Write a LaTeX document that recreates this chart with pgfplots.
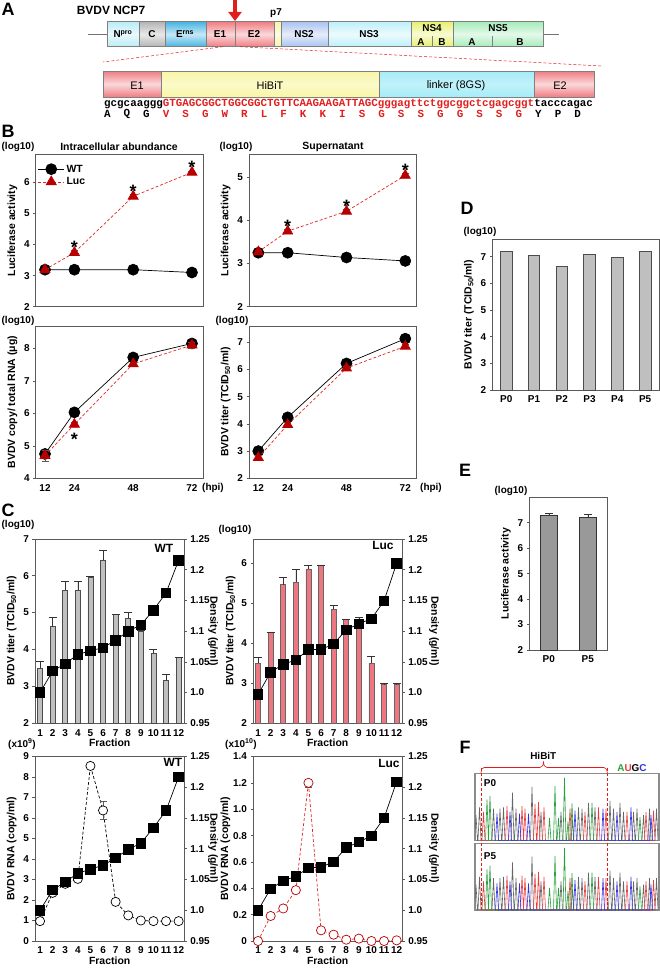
\documentclass[border=0pt]{standalone}
\usepackage{fontspec}
\setmainfont{Liberation Sans}
\newfontfamily\seqfont{Liberation Mono}
\usepackage{pgfplots}
\pgfplotsset{compat=1.18}
\usetikzlibrary{arrows.meta}

\definecolor{lucred}{RGB}{220,40,40}
\definecolor{lucdark}{RGB}{185,0,0}
\definecolor{lucbar}{RGB}{238,118,128}
\definecolor{seqred}{RGB}{225,30,30}
\definecolor{framegray}{RGB}{90,90,90}
\definecolor{cnpro}{RGB}{185,236,246}
\definecolor{cc}{RGB}{180,180,180}
\definecolor{cerns}{RGB}{70,180,225}
\definecolor{ce}{RGB}{240,125,130}
\definecolor{cp7}{RGB}{245,245,165}
\definecolor{cns2}{RGB}{170,195,240}
\definecolor{cns3}{RGB}{190,240,250}
\definecolor{cns4}{RGB}{232,240,110}
\definecolor{cns5}{RGB}{165,235,185}
\definecolor{chibit}{RGB}{248,246,165}
\definecolor{clink}{RGB}{165,236,248}
\definecolor{chg}{RGB}{40,160,60}
\definecolor{chb}{RGB}{50,50,225}
\definecolor{chr}{RGB}{230,60,60}

\newcommand\tf{\bfseries\fontsize{10}{12}\selectfont}
\newcommand\lf{\bfseries\fontsize{10.5}{12}\selectfont}
\newcommand\gbox[5]{\shade[top color=#5, bottom color=#5, middle color=#5!30!white] (#1,#3) rectangle (#2,#4);
  \draw[black!50, line width=0.5bp] (#1,#3) rectangle (#2,#4);}

\pgfplotsset{
  fig/.style={scale only axis, anchor=south west, font=\tf,
    tick label style={font=\tf}, label style={font=\lf},
    /pgf/number format/assume math mode=true,
    axis line style={framegray, line width=0.6bp},
    tick style={framegray, line width=0.6bp},
    tick align=outside, major tick length=2.5bp,
    xtick pos=bottom, ytick pos=left, clip mode=individual},
  bgrid/.style={fig, width=167.3bp, height=152.4bp, xmin=8.2, xmax=76.5,
    xtick={12,24,48,72}, x tick style={draw=none}},
  cgrid/.style={fig, width=149.3bp, height=184.5bp, xmin=0.6, xmax=12.45,
    xtick={1,...,12}, x tick style={draw=none}, xlabel={Fraction}, xlabel style={yshift=4bp}},
  dens/.style={fig, width=149.3bp, height=184.5bp, xmin=0.6, xmax=12.45,
    axis x line=none, axis y line*=right, ytick pos=right, yticklabel pos=right,
    ymin=0.95, ymax=1.25,
    ytick={0.95,1,1.05,1.1,1.15,1.2,1.25}, yticklabels={0.95,1.0,1.05,1.1,1.15,1.2,1.25}},
  wt/.style={black, line width=0.7bp, mark=*, mark size=5.5bp, mark options={solid}},
  luc/.style={lucred, densely dashed, line width=0.7bp, mark=triangle*, mark size=5.8bp,
    mark options={solid, fill=lucdark, draw=lucdark}},
  dsq/.style={black, line width=0.7bp, mark=square*, mark size=4.8bp},
  eb/.style={error bars/y dir=both, error bars/y explicit,
    error bars/error bar style={framegray, solid, line width=0.6bp},
    error bars/error mark options={rotate=90, framegray, solid, line width=0.6bp, mark size=3.5bp}},
  ebp/.style={error bars/y dir=plus, error bars/y explicit,
    error bars/error bar style={black!80, solid, line width=0.6bp},
    error bars/error mark options={rotate=90, black!80, solid, line width=0.6bp, mark size=4bp}},
  chrom/.style={scale only axis, anchor=south west, width=184bp, xmin=475, xmax=659,
    ymin=0, ymax=1.05, xtick=\empty, ytick=\empty, axis line style={black!45, line width=1.4bp}},
}
\tikzset{ast/.style={font=\bfseries\fontsize{18}{18}\selectfont, anchor=base, inner sep=0pt, yshift=-1bp}}

\def\pkK{(474.5,0)(476,0.40)(477.5,0)(478,0)(479.5,0.52)(481,0)(492,0)(493.5,0.5)(495,0)(498.5,0)(500,0.5)(501.5,0)(502,0)(503.5,0.52)(505,0)(511,0)(512.5,0.75)(514,0)(514.5,0)(516,0.5)(517.5,0)(530.5,0)(532,0.84)(533.5,0)(539.5,0)(541,0.45)(542.5,0)(559.5,0)(561,0.45)(562.5,0)(571,0)(572.5,0.32)(574,0)(577,0)(578.5,0.52)(580,0)(580.5,0)(582,0.5)(583.5,0)(587,0)(588.5,0.59)(590,0)(593.5,0)(595,0.52)(596.5,0)(608.5,0)(610,0.62)(611.5,0)(612,0)(613.5,0.5)(615,0)(618.5,0)(620,0.59)(621.5,0)(622,0)(623.5,0.45)(625,0)(632,0)(633.5,0.45)(635,0)(635.5,0)(637,0.5)(638.5,0)(642,0)(643.5,0.4)(645,0)(648,0)(649.5,0.5)(651,0)(655,0)(656.5,0.5)(658,0)}
\def\pkR{(482,0)(483.5,0.45)(485,0)(505.5,0)(507,0.54)(508.5,0)(520.5,0)(522,0.54)(523.5,0)(525,0.5)(526.5,0)(533.5,0)(535,0.57)(536.5,0)(537,0)(538.5,0.6)(540,0)(542.5,0)(544,0.52)(545.5,0)(568.5,0)(570,0.5)(571.5,0)(583.5,0)(585,0.45)(586.5,0)(597,0)(598.5,0.52)(600,0)(604.5,0)(606,0.5)(607.5,0)(625.5,0)(627,0.45)(628.5,0)(644.5,0)(646,0.45)(647.5,0)(652,0)(653.5,0.47)(655,0)}
\def\pkG{(485.5,0)(487,0.64)(488.5,0)(490,0.7)(491.5,0)(548,0)(549.5,0.35)(551,0)(553.5,0)(555,0.85)(556.5,0)(557,0)(558.5,0.35)(560,0)(563,0)(564.5,0.98)(566,0)(566.5,0)(568,0.3)(569.5,0)(570.5,0)(572,0.58)(573.5,0)(590.5,0)(592,0.59)(593.5,0)(638.5,0)(640,0.37)(641.5,0)}
\def\pkB{(495.5,0)(497,0.42)(498.5,0)(508.5,0)(510,0.45)(511.5,0)(518,0)(519.5,0.42)(521,0)(527,0)(528.5,0.42)(530,0)(573.5,0)(575,0.47)(576.5,0)(601.5,0)(603,0.5)(604.5,0)(615.5,0)(617,0.45)(618.5,0)(629.5,0)(631,0.52)(632.5,0)(649.5,0)(651,0.4)(652.5,0)}

\begin{document}
\begin{tikzpicture}
\path[use as bounding box] (0bp,0bp) rectangle (660bp,-968bp);

% ---------- panel A: genome map ----------
\begin{scope}[x=1bp,y=-1bp]
\draw[black!55, line width=0.8bp] (88,34.2) -- (559,34.2);
\gbox{107}{139}{21.7}{46.7}{cnpro}
\gbox{139}{165}{21.7}{46.7}{cc}
\gbox{165}{206}{21.7}{46.7}{cerns}
\gbox{206}{235}{21.7}{46.7}{ce}
\gbox{235}{274}{21.7}{46.7}{ce}
\gbox{274}{281}{21.7}{46.7}{cp7}
\gbox{281}{328}{21.7}{46.7}{cns2}
\gbox{328}{411}{21.7}{46.7}{cns3}
\gbox{411}{453}{21.7}{46.7}{cns4}
\gbox{453}{543}{21.7}{46.7}{cns5}
\draw[black!50, line width=0.5bp] (432,36) -- (432,46.7) (492,36) -- (492,46.7);
\begin{scope}[font=\tf]
\node at (123,34) {N\textsuperscript{pro}};
\node at (152,34) {C};
\node at (185,34) {E\textsuperscript{rns}};
\node at (220,34) {E1};
\node at (254,34) {E2};
\node at (304,34) {NS2};
\node at (369,34) {NS3};
\node at (432,28) {NS4};
\node at (421,42.5) {A}; \node at (442,42.5) {B};
\node at (498,28) {NS5};
\node at (472,42.5) {A}; \node at (520,42.5) {B};
\node at (276,13) {p7};
\end{scope}
\node[font=\bfseries\fontsize{12}{14}\selectfont] at (111,10) {BVDV NCP7};
\draw[seqred, line width=3.5bp, -{Triangle[width=13bp,length=9bp]}] (235,0) -- (235,21);
\draw[seqred, densely dashed, line width=0.5bp] (223,46.7) -- (103,62) (240,46.7) -- (602,66);
\gbox{103}{161}{71}{97}{ce}
\shade[top color=chibit, bottom color=chibit, middle color=chibit!60!white] (161,71) rectangle (379,97);
\draw[black!50, line width=0.5bp] (161,71) rectangle (379,97);
\shade[top color=clink, bottom color=clink, middle color=clink!70!white] (379,71) rectangle (534,97);
\draw[black!50, line width=0.5bp] (379,71) rectangle (534,97);
\gbox{534}{594}{71}{97}{ce}
\begin{scope}[font=\fontsize{11}{13}\selectfont]
\node at (137,86) {E1};
\node at (270,86) {HiBiT};
\node at (456,86) {linker (8GS)};
\node at (560,86) {E2};
\end{scope}
\node[anchor=west, inner sep=0pt, font=\seqfont\bfseries\fontsize{10.9}{12}\selectfont] at (104,104)
  {gcgcaaggg\textcolor{seqred}{GTGAGCGGCTGGCGGCTGTTCAAGAAGATTAGCgggagttctggcggctcgagcggt}tacccagac};
\foreach \a [count=\i from 0] in {A,Q,G,V,S,G,W,R,L,F,K,K,I,S,G,S,S,G,G,S,S,G,Y,P,D} {
  \pgfmathsetmacro\xx{104+(3*\i+0.5)*6.533}
  \ifnum\i<3 \def\cl{black}\else\ifnum\i>21 \def\cl{black}\else\def\cl{seqred}\fi\fi
  \node[text=\cl, inner sep=0pt, font=\seqfont\bfseries\fontsize{10.9}{12}\selectfont] at (\xx,114) {\a};
}
% panel letters and free labels
\begin{scope}[font=\bfseries\fontsize{18}{18}\selectfont]
\node at (8,9) {A}; \node at (8,131) {B}; \node at (8,510) {C};
\node at (467,208) {D}; \node at (465,470) {E}; \node at (465,747) {F};
\end{scope}
\begin{scope}[font=\tf]
\node at (18,147) {(log10)}; \node at (236,147) {(log10)};
\node at (18,321) {(log10)}; \node at (232,321) {(log10)};
\node at (18,525) {(log10)}; \node at (235,530) {(log10)};
\node at (480,232) {(log10)}; \node at (511,491) {(log10)};
\node at (22,744) {(x10\textsuperscript{9})}; \node at (241,744) {(x10\textsuperscript{10})};
\node at (213,488) {(hpi)}; \node at (431,488) {(hpi)};
\end{scope}
\node[font=\lf] at (119,147) {Intracellular abundance};
\node[font=\lf] at (333,147) {Supernatant};
\begin{scope}[font=\bfseries\fontsize{12}{14}\selectfont]
\node at (164,548) {WT}; \node at (173,762) {WT};
\node at (383,545) {Luc}; \node at (389,763) {Luc};
\end{scope}
\begin{scope}[font=\lf]
\node[rotate=-90] at (213,631) {Density (g/ml)};
\node[rotate=-90] at (434,631) {Density (g/ml)};
\node[rotate=-90] at (213,848) {Density (g/ml)};
\node[rotate=-90] at (434,848) {Density (g/ml)};
\end{scope}
\end{scope}

% ---------- panel B ----------
\begin{axis}[bgrid, at={(35.7bp,-306.7bp)}, ymin=2, ymax=6.9, ytick={2,...,6}, xticklabels={},
  ylabel={Luciferase activity},
  legend style={at={(0,0.965)}, anchor=north west, xshift=2bp, draw=none, fill=none, inner xsep=0bp, inner ysep=3bp,
    font=\lf, cells={anchor=west}},
  legend image code/.code={\draw[mark repeat=2,mark phase=2,#1] plot coordinates {(0bp,0bp) (13bp,0bp) (26bp,0bp)};}]
\addplot[wt] coordinates {(12,3.19)(24,3.19)(48,3.19)(72,3.10)};
\addlegendentry{WT}
\addplot[luc, eb] coordinates {(12,3.19)+-(0,0.03)(24,3.74)+-(0,0.06)(48,5.55)+-(0,0.05)(72,6.32)+-(0,0.04)};
\addlegendentry{Luc}
\node[ast] at (axis cs:24,3.74) {*};
\node[ast] at (axis cs:48,5.55) {*};
\node[ast] at (axis cs:72,6.32) {*};
\end{axis}

\begin{axis}[bgrid, at={(249bp,-306.7bp)}, ymin=2, ymax=5.53, ytick={2,...,5}, xticklabels={},
  ylabel={Luciferase activity}]
\addplot[wt] coordinates {(12,3.25)(24,3.25)(48,3.14)(72,3.06)};
\addplot[luc, eb] coordinates {(12,3.27)+-(0,0.03)(24,3.75)+-(0,0.05)(48,4.21)+-(0,0.05)(72,5.04)+-(0,0.04)};
\node[ast] at (axis cs:24,3.75) {*};
\node[ast] at (axis cs:48,4.21) {*};
\node[ast] at (axis cs:72,5.04) {*};
\end{axis}

\begin{axis}[bgrid, at={(35.7bp,-478.3bp)}, ymin=4, ymax=8.69, ytick={4,...,8},
  ylabel={BVDV copy/ total RNA (μg)}]
\addplot[wt, eb] coordinates {(12,4.75)+-(0,0.12)(24,6.03)+-(0,0.04)(48,7.72)+-(0,0.05)(72,8.15)+-(0,0.1)};
\addplot[luc, eb] coordinates {(12,4.70)+-(0,0.17)(24,5.66)+-(0,0.07)(48,7.52)+-(0,0.06)(72,8.10)+-(0,0.1)};
\node[ast, yshift=-20bp] at (axis cs:24,5.66) {*};
\end{axis}

\begin{axis}[bgrid, at={(249bp,-478.3bp)}, ymin=2, ymax=7.6, ytick={2,...,7},
  ylabel={BVDV titer (TCID\textsubscript{50}/ml)}]
\addplot[wt, eb] coordinates {(12,3.0)+-(0,0.08)(24,4.24)+-(0,0.06)(48,6.22)+-(0,0.05)(72,7.13)+-(0,0.1)};
\addplot[luc, eb] coordinates {(12,2.76)+-(0,0.1)(24,3.97)+-(0,0.08)(48,6.05)+-(0,0.06)(72,6.85)+-(0,0.08)};
\end{axis}

% ---------- panel C ----------
\begin{axis}[cgrid, at={(35bp,-723.3bp)}, ymin=2, ymax=7, ytick={2,...,7}, ybar, bar width=5bp,
  ylabel={BVDV titer (TCID\textsubscript{50}/ml)}]
\addplot[fill=black!25, draw=black!70, line width=0.5bp, ebp] coordinates {
  (1,3.49)+-(0,0.18) (2,4.62)+-(0,0.24) (3,5.61)+-(0,0.24) (4,5.61)+-(0,0.24)
  (5,5.97)+-(0,0.01) (6,6.43)+-(0,0.27) (7,4.95)+-(0,0.01) (8,4.85)+-(0,0.15)
  (9,4.50)+-(0,0.02) (10,3.90)+-(0,0.1) (11,3.17)+-(0,0.16) (12,3.78)+-(0,0.01)};
\end{axis}
\begin{axis}[dens, at={(35bp,-723.3bp)}]
\addplot[dsq] coordinates {(1,1.0)(2,1.035)(3,1.047)(4,1.062)(5,1.068)(6,1.073)(7,1.085)(8,1.10)(9,1.11)(10,1.134)(11,1.162)(12,1.215)};
\end{axis}

\begin{axis}[cgrid, at={(253bp,-723.3bp)}, ymin=2, ymax=6.6, ytick={2,...,6}, ybar, bar width=5bp,
  ylabel={BVDV titer (TCID\textsubscript{50}/ml)}, ylabel shift=-1bp]
\addplot[fill=lucbar, draw=black!60, line width=0.5bp, ebp] coordinates {
  (1,3.50)+-(0,0.15) (2,4.27)+-(0,0.01) (3,5.46)+-(0,0.17) (4,5.52)+-(0,0.31)
  (5,5.85)+-(0,0.08) (6,5.93)+-(0,0.01) (7,4.84)+-(0,0.11) (8,4.59)+-(0,0.01)
  (9,4.39)+-(0,0.26) (10,3.50)+-(0,0.16) (11,2.98)+-(0,0.01) (12,2.98)+-(0,0.01)};
\end{axis}
\begin{axis}[dens, at={(253bp,-723.3bp)}]
\addplot[dsq] coordinates {(1,0.997)(2,1.033)(3,1.046)(4,1.053)(5,1.07)(6,1.07)(7,1.079)(8,1.102)(9,1.112)(10,1.12)(11,1.149)(12,1.21)};
\end{axis}

\begin{axis}[cgrid, at={(35bp,-941bp)}, ymin=0, ymax=9, ytick={0,...,9},
  ylabel={BVDV RNA (copy/ml)}]
\addplot[black, densely dashed, line width=0.7bp, mark=*, mark size=4.6bp,
  mark options={solid, fill=white, draw=black}, eb] coordinates {
  (1,0.97)+-(0,0) (2,2.35)+-(0,0) (3,2.79)+-(0,0) (4,3.03)+-(0,0) (5,8.54)+-(0,0.08)
  (6,6.37)+-(0,0.45) (7,1.91)+-(0,0) (8,1.25)+-(0,0) (9,1.0)+-(0,0) (10,0.97)+-(0,0)
  (11,0.97)+-(0,0) (12,0.97)+-(0,0)};
\end{axis}
\begin{axis}[dens, at={(35bp,-941bp)}]
\addplot[dsq] coordinates {(1,1.0)(2,1.033)(3,1.046)(4,1.06)(5,1.067)(6,1.073)(7,1.085)(8,1.099)(9,1.109)(10,1.134)(11,1.162)(12,1.217)};
\end{axis}

\begin{axis}[cgrid, at={(253bp,-941bp)}, ymin=0, ymax=1.4, ytick={0,0.2,...,1.4},
  yticklabels={0,0.2,0.4,0.6,0.8,1.0,1.2,1.4}, ylabel={BVDV RNA (copy/ml)}, ylabel shift=-4bp]
\addplot[lucred, densely dashed, line width=0.7bp, mark=*, mark size=4.6bp,
  mark options={solid, fill=white, draw=lucdark}, eb] coordinates {
  (1,0.0)+-(0,0) (2,0.19)+-(0,0) (3,0.247)+-(0,0) (4,0.386)+-(0,0) (5,1.2)+-(0,0.03)
  (6,0.081)+-(0,0) (7,0.048)+-(0,0) (8,0.01)+-(0,0) (9,0.018)+-(0,0) (10,0.0)+-(0,0)
  (11,0.0)+-(0,0) (12,0.005)+-(0,0)};
\end{axis}
\begin{axis}[dens, at={(253bp,-941bp)}]
\addplot[dsq] coordinates {(1,1.0)(2,1.035)(3,1.048)(4,1.055)(5,1.069)(6,1.07)(7,1.079)(8,1.102)(9,1.111)(10,1.121)(11,1.15)(12,1.209)};
\end{axis}

% ---------- panel D ----------
\begin{axis}[fig, at={(492.3bp,-390bp)}, width=166.7bp, height=151bp, xmin=-0.5, xmax=5.5,
  ymin=2, ymax=7.66, ytick={2,...,7}, xtick={0,...,5}, xticklabels={P0,P1,P2,P3,P4,P5},
  x tick style={draw=none}, ybar, bar width=11.5bp, ylabel={BVDV titer (TCID\textsubscript{50}/ml)}]
\addplot[fill=black!25, draw=black!70, line width=0.6bp] coordinates {(0,7.21)(1,7.06)(2,6.62)(3,7.08)(4,6.97)(5,7.21)};
\end{axis}

% ---------- panel E ----------
\begin{axis}[fig, at={(529.3bp,-650bp)}, width=78bp, height=152.7bp, xmin=-0.5, xmax=1.5,
  ymin=2, ymax=8, ytick={2,...,7}, xtick={0,1}, xticklabels={P0,P5},
  x tick style={draw=none}, ybar, bar width=17bp, ylabel={Luciferase activity}]
\addplot[fill=black!40, draw=black!80, line width=0.6bp, ebp] coordinates {(0,7.29)+-(0,0.09)(1,7.20)+-(0,0.12)};
\end{axis}

% ---------- panel F ----------
\begin{axis}[chrom, at={(475bp,-840.7bp)}, height=67.4bp]
\addplot[black!60, line width=0.6bp] coordinates {\pkK};
\addplot[chr, line width=0.6bp] coordinates {\pkR};
\addplot[chg, line width=0.6bp] coordinates {\pkG};
\addplot[chb, line width=0.6bp] coordinates {\pkB};
\end{axis}
\begin{axis}[chrom, at={(475bp,-910bp)}, height=66.7bp]
\addplot[black!60, line width=0.6bp] coordinates {\pkK};
\addplot[chr, line width=0.6bp] coordinates {\pkR};
\addplot[chg, line width=0.6bp] coordinates {\pkG};
\addplot[chb, line width=0.6bp] coordinates {\pkB};
\end{axis}

\begin{scope}[x=1bp,y=-1bp]
\draw[seqred, densely dashed, line width=0.7bp] (481,768) -- (481,910) (607.3,768) -- (607.3,910);
\draw[seqred, line width=0.6bp] (481,773) to[out=90,in=180] (484,767.5) -- (540,767.5)
  to[out=0,in=-90] (543.5,762) to[out=-90,in=180] (547,767.5) -- (604,767.5) to[out=0,in=90] (607.3,773);
\node[font=\tf] at (543.3,755.7) {HiBiT};
\node[font=\tf] at (632,767.7) {\textcolor{chg}{A}\textcolor{chr}{U}G\textcolor{chb}{C}};
\node[font=\tf] at (490,783) {P0};
\node[font=\tf] at (490,855.7) {P5};
\end{scope}
\end{tikzpicture}
\end{document}
